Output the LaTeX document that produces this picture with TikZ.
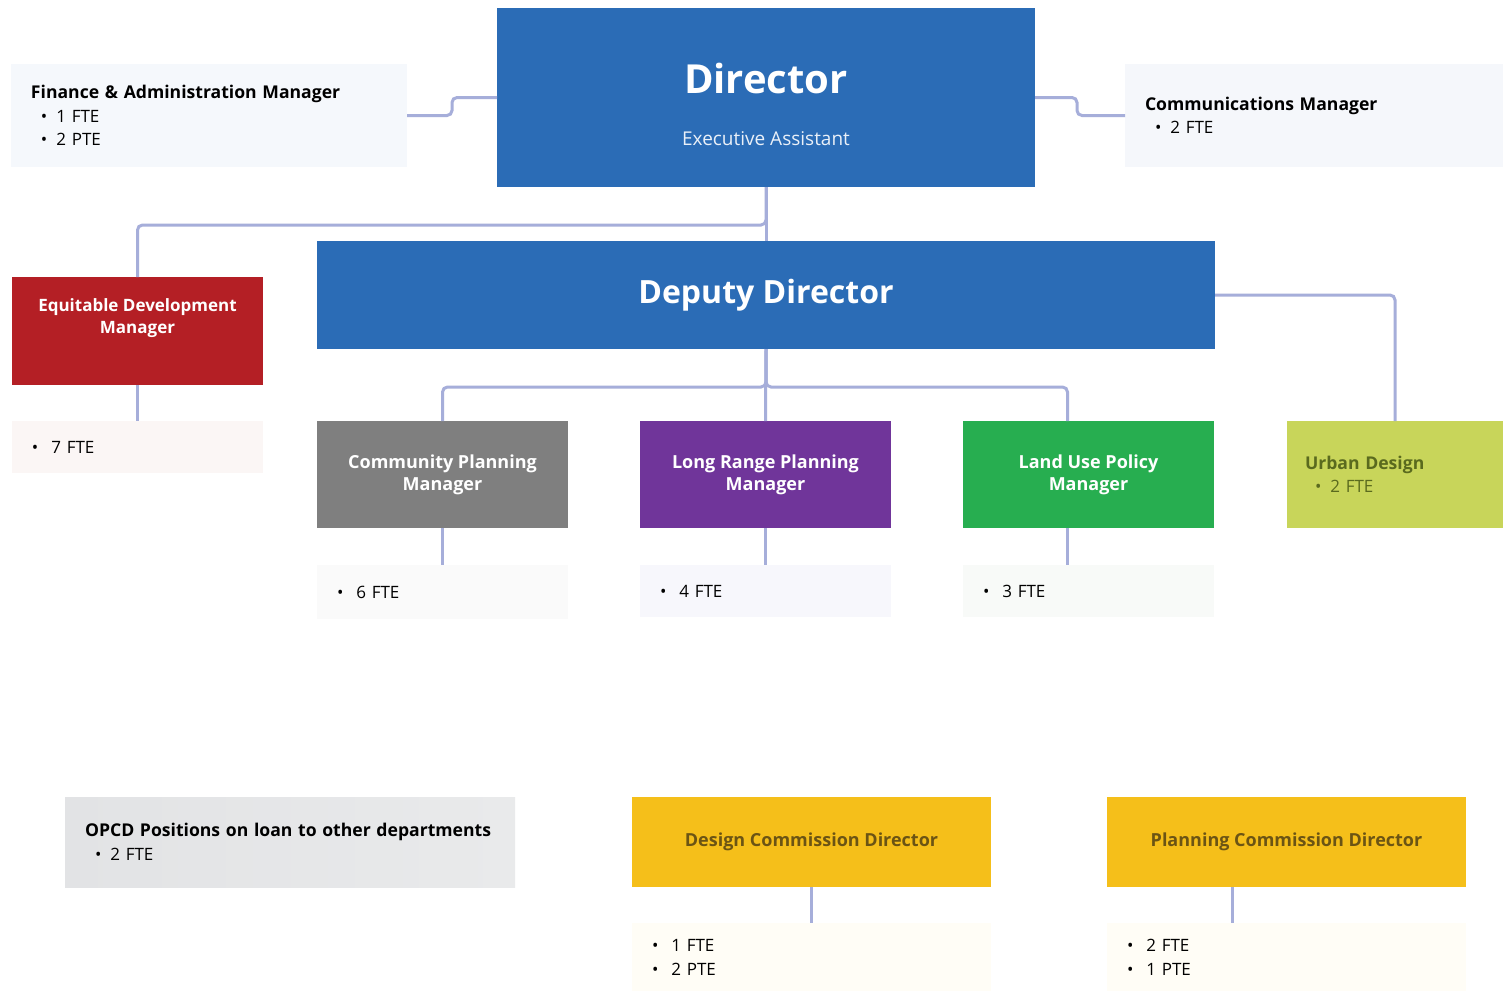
\documentclass[tikz,border=0pt]{standalone}
\usepackage{fontspec}
\setmainfont{Open Sans}
\usetikzlibrary{positioning,calc}

\definecolor{dirblue}{HTML}{2B6CB6}
\definecolor{eqred}{HTML}{B41F25}
\definecolor{cpgray}{HTML}{7F7F7F}
\definecolor{lrpurple}{HTML}{70359A}
\definecolor{lugreen}{HTML}{27AE50}
\definecolor{udlime}{HTML}{C8D55A}
\definecolor{udtext}{HTML}{5A6A1E}
\definecolor{dcyellow}{HTML}{F5BF1A}
\definecolor{dctext}{HTML}{6B5414}
\definecolor{linecol}{HTML}{A6AEDA}
\definecolor{finbg}{HTML}{F5F8FC}
\definecolor{combg}{HTML}{F5F7FB}
\definecolor{eqbg}{HTML}{FBF6F5}
\definecolor{cpbg}{HTML}{FAFAFA}
\definecolor{lrbg}{HTML}{F7F7FC}
\definecolor{lubg}{HTML}{F8FAF8}
\definecolor{dcbg}{HTML}{FFFDF6}
\definecolor{opA}{HTML}{E2E3E5}
\definecolor{opB}{HTML}{E9EAEB}

\newcommand{\ttl}[1]{\mbox{\bfseries\fontsize{8.8}{11.75}\selectfont #1}}
\newcommand{\itm}[1]{\hspace*{5pt}\textbullet\hspace{4.5pt}#1}
\newcommand{\itb}[1]{\textbullet\hspace{6.5pt}#1}

\tikzset{
  conn/.style={draw=linecol, line width=1.5pt, rounded corners=2.5pt},
  box/.style={anchor=north west, inner sep=0pt, outer sep=0pt},
  mgr/.style={box, fill=#1, text=white, align=center,
    font=\bfseries\fontsize{9}{11}\selectfont,
    minimum width=125.5pt, minimum height=53.5pt},
  note/.style 2 args={box, fill=#1, align=left, inner xsep=10pt,
    text width=#2-20pt, font=\fontsize{8.5}{11.75}\selectfont},
  dirtxt/.style={anchor=base, inner sep=0pt, text=white,
    font=\bfseries\fontsize{20}{24}\selectfont},
  eatxt/.style={anchor=base, inner sep=0pt, text=white!90!dirblue,
    font=\fontsize{9.5}{12}\selectfont},
  eqtxt/.style={anchor=north, inner sep=0pt, text=white, align=center,
    font=\bfseries\fontsize{8.5}{11}\selectfont}
}

\begin{document}
\begin{tikzpicture}[x=0.5pt, y=-0.5pt]
\fill[white] (0,0) rectangle (1503,991);
\useasboundingbox (0,0) rectangle (1503,991);

% top row
\node[box, fill=dirblue, minimum width=269pt, minimum height=89.5pt,
  label={[dirtxt, yshift=-42.5pt]north:Director},
  label={[eatxt, yshift=-68.5pt]north:Executive Assistant}] (dir) at (497,8) {};
\node[note={finbg}{198pt}, minimum height=51.5pt] (fin) at (11,64)
  {\ttl{Finance \& Administration Manager}\\ \itm{1 FTE}\\ \itm{2 PTE}};
\node[note={combg}{189pt}, minimum height=51.5pt] (com) at (1125,64)
  {\ttl{Communications Manager}\\ \itm{2 FTE}};

% deputy and managers
\node[box, fill=dirblue, text=white, minimum width=449pt, minimum height=54pt,
  font=\bfseries\fontsize{16}{18}\selectfont] (dep) at (317,241) {Deputy Director};
\node[box, fill=eqred, minimum width=125.5pt, minimum height=54pt,
  label={[eqtxt, yshift=-10.5pt]north:Equitable Development\\Manager}] (eq) at (12,277) {};
\node[note={eqbg}{125.5pt}, minimum height=26pt] (eqn) at (12,421) {\itb{7 FTE}};

\node[mgr=cpgray] (cp) at (317,421) {Community Planning\\Manager};
\node[mgr=lrpurple] (lr) at (640,421) {Long Range Planning\\Manager};
\node[mgr=lugreen] (lu) at (963,421) {Land Use Policy\\Manager};
\node[note={udlime}{108pt}, minimum height=53.5pt, text=udtext, inner xsep=9pt,
  text width=90pt] (ud) at (1287,421)
  {\ttl{Urban Design}\\ \itm{2 FTE}};

\node[note={cpbg}{125.5pt}, minimum height=27pt] (cpn) at (317,565) {\itb{6 FTE}};
\node[note={lrbg}{125.5pt}, minimum height=26pt] (lrn) at (640,565) {\itb{4 FTE}};
\node[note={lubg}{125.5pt}, minimum height=26pt] (lun) at (963,565) {\itb{3 FTE}};

% bottom row
\node[note={opA}{225pt}, left color=opA, right color=opB, minimum height=45pt] (op) at (65,797)
  {\ttl{OPCD Positions on loan to other departments}\\ \itm{2 FTE}};
\node[box, fill=dcyellow, text=dctext, minimum width=179.5pt, minimum height=45pt,
  font=\bfseries\fontsize{9}{11}\selectfont] (dc) at (632,797) {Design Commission Director};
\node[box, fill=dcyellow, text=dctext, minimum width=179.5pt, minimum height=45pt,
  font=\bfseries\fontsize{9}{11}\selectfont] (pc) at (1107,797) {Planning Commission Director};
\node[note={dcbg}{179.5pt}, minimum height=34pt, font=\fontsize{8.5}{12}\selectfont] (dcn) at (632,923)
  {\itb{1 FTE}\\ \itb{2 PTE}};
\node[note={dcbg}{179.5pt}, minimum height=34pt, font=\fontsize{8.5}{12}\selectfont] (pcn) at (1107,923)
  {\itb{2 FTE}\\ \itb{1 PTE}};

% connectors
\draw[conn] (fin.east) -- ++(45,0) |- (dir.west);
\draw[conn] (dir.east) -- ++(42,0) |- (com.west);
\draw[conn] (dir.south) -- (dep.north);
\draw[conn] (dir.south) -- ++(0,38) -| (eq.north);
\draw[conn] (dep.east) -| (ud.north);
\draw[conn] (dep.south) -- (lr.north);
\draw[conn] (dep.south) -- ++(0,38) -| (cp.north);
\draw[conn] (dep.south) -- ++(0,38) -| ([xshift=-10.5pt]lu.north);
\draw[conn] (eq.south) -- (eqn.north);
\draw[conn] (cp.south) -- (cpn.north);
\draw[conn] (lr.south) -- (lrn.north);
\draw[conn] ([xshift=-10.5pt]lu.south) -- ([xshift=-10.5pt]lun.north);
\draw[conn] (dc.south) -- (dcn.north);
\draw[conn] ([xshift=-27pt]pc.south) -- ([xshift=-27pt]pcn.north);
\end{tikzpicture}
\end{document}
